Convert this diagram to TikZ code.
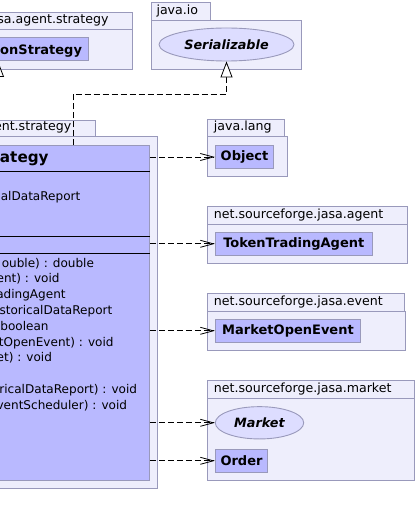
\documentclass[tikz,border=0pt]{standalone}
\usepackage{fontspec}
\setmainfont{DejaVu Sans}
\usetikzlibrary{arrows.meta,shapes.geometric}
\definecolor{pkgfill}{RGB}{238,238,252}
\definecolor{clsfill}{RGB}{185,185,255}
\definecolor{iffill}{RGB}{221,221,255}
\definecolor{bord}{RGB}{153,153,187}
\newcommand{\lblsize}{\fontsize{12.6}{15}\selectfont}
\newcommand{\memsize}{\fontsize{12.05}{14.5}\selectfont}
\newcommand{\clsize}{\fontsize{13}{15.5}\selectfont\bfseries}
\tikzset{
  pkg/.style={draw=bord, fill=pkgfill, line width=0.9pt},
  cbox/.style={draw=bord, fill=clsfill, line width=0.9pt, inner sep=0pt,
    minimum height=23.3pt, font=\clsize},
  iface/.style={ellipse, draw=bord, fill=iffill, line width=0.9pt, inner sep=0pt,
    font=\fontsize{12.8}{15}\selectfont\bfseries\itshape},
  plabel/.style={anchor=base west, inner sep=0pt, font=\lblsize},
  clabel/.style={anchor=base east, inner sep=0pt, font=\lblsize},
  mtext/.style={anchor=base east, inner sep=0pt, font=\memsize},
  sep/.style={line width=0.9pt, black},
  dep/.style={dash pattern=on 6pt off 3pt, line width=0.8pt,
    -{Straight Barb[length=13pt,width=7pt]}},
  real/.style={dash pattern=on 6pt off 3pt, line width=0.8pt,
    -{Triangle[open,length=16pt,width=12pt,fill=white]}},
  gen/.style={line width=0.8pt, -{Triangle[open,length=16pt,width=12pt,fill=white]}},
}
\begin{document}
\begin{tikzpicture}[x=1pt,y=-1pt]
\useasboundingbox (0,0) rectangle (417,526);
\fill[white] (0,0) rectangle (417,526);
\clip (0,0) rectangle (417,526);

% ---- package net.sourceforge.jasa.agent.strategy (top left) ----
\draw[pkg] (-150,12) rectangle (132,69);
\draw[bord, line width=0.9pt] (-150,29) -- (132,29);
\node[clabel] (ptl) at (108.8,23.5) {sa.agent.strategy};
\node[cbox, minimum width=238pt] (par) at (-31,49) {};
\node[anchor=base east, inner sep=0pt, font=\clsize] (partxt) at (82.2,54.5) {onStrategy};

% ---- package java.io ----
\draw[pkg] (151,2.3) rectangle (210,20.3);
\draw[pkg] (151,20.3) rectangle (301,69);
\node[plabel] (pio) at (156.3,14.5) {java.io};
\node[iface, minimum width=135pt, minimum height=33pt] (ser) at (226.5,44.5) {Serializable};

% ---- package net.sourceforge.jasa.agent.strategy (main) ----
\draw[pkg] (-150,120) rectangle (95,136);
\draw[pkg] (-150,136) rectangle (157,488);
\node[clabel] (pms) at (71.5,130.5) {ent.strategy};
\node[draw=bord, fill=clsfill, line width=0.9pt, minimum width=299.3pt,
      minimum height=334.7pt, inner sep=0pt] (cls) at (-0.35,312.65) {};
\draw[sep] (-150,171.7) -- (cls.east |- 0,171.7);
\draw[sep] (-150,236.3) -- (cls.east |- 0,236.3);
\draw[sep] (-150,253) -- (cls.east |- 0,253);
\node[anchor=base east, inner sep=0pt, font=\fontsize{15.2}{18}\selectfont\bfseries] (clsname) at (48.8,162.8) {ategy};
\node[mtext] (a1) at (80.5,201) {alDataReport};
\node[mtext] (m1) at (94.2,267) {ouble) : double};
\node[mtext] (m2) at (59.8,282.8) {ent) : void};
\node[mtext] (m3) at (65.8,298.6) {adingAgent};
\node[mtext] (m4) at (112.5,314.4) {storicalDataReport};
\node[mtext] (m5) at (48.8,330.2) {boolean};
\node[mtext] (m6) at (113.8,346) {tOpenEvent) : void};
\node[mtext] (m7) at (52.2,361.8) {et) : void};
\node[mtext] (m8) at (137.2,393.4) {ricalDataReport) : void};
\node[mtext] (m9) at (127.2,409.2) {ventScheduler) : void};

% ---- package java.lang ----
\draw[pkg] (207.7,119.3) rectangle (284.3,136);
\draw[pkg] (207.7,136) rectangle (287.3,176);
\node[plabel] (plang) at (213.7,130.5) {java.lang};
\node[cbox, minimum width=58.4pt] (obj) at (244.5,157) {Object};

% ---- package net.sourceforge.jasa.agent ----
\draw[pkg] (207.3,206.7) rectangle (407.3,224);
\draw[pkg] (207.3,224) rectangle (407.3,263.3);
\node[plabel] (pag) at (213.7,218.5) {net.sourceforge.jasa.agent};
\node[cbox, minimum width=157pt] (tta) at (293.8,243.8) {TokenTradingAgent};

% ---- package net.sourceforge.jasa.event ----
\draw[pkg] (207.3,293.7) rectangle (404.3,311);
\draw[pkg] (207.3,311) rectangle (405.7,350.7);
\node[plabel] (pev) at (213.7,305.5) {net.sourceforge.jasa.event};
\node[cbox, minimum width=145.4pt] (moe) at (288,330.8) {MarketOpenEvent};

% ---- package net.sourceforge.jasa.market ----
\draw[pkg] (207.3,380.7) rectangle (414.3,398.3);
\draw[pkg] (207.3,398.3) rectangle (414.3,480);
\node[plabel] (pmk) at (213.7,392.8) {net.sourceforge.jasa.market};
\node[iface, minimum width=88.4pt, minimum height=32.3pt] (mkt) at (259.5,422.8) {Market};
\node[cbox, minimum width=52.4pt] (ord) at (241.5,460.8) {Order};

% ---- connectors ----
\coordinate (jx) at (73,145.3);
\coordinate (kink) at (73,94);
\draw[real] (jx) -- (kink) -| (ser.south);
\coordinate (gbot) at (-2,145.3);
\coordinate (gtop) at (-2,61);
\draw[gen] (gbot) -- (gtop);
\draw[dep] (cls.east |- obj.west) -- (obj.west);
\draw[dep] (cls.east |- tta.west) -- (tta.west);
\draw[dep] (cls.east |- moe.west) -- (moe.west);
\draw[dep] (cls.east |- mkt.west) -- (mkt.west);
\draw[dep] (cls.east |- ord.west) -- (ord.west);
\end{tikzpicture}
\end{document}
